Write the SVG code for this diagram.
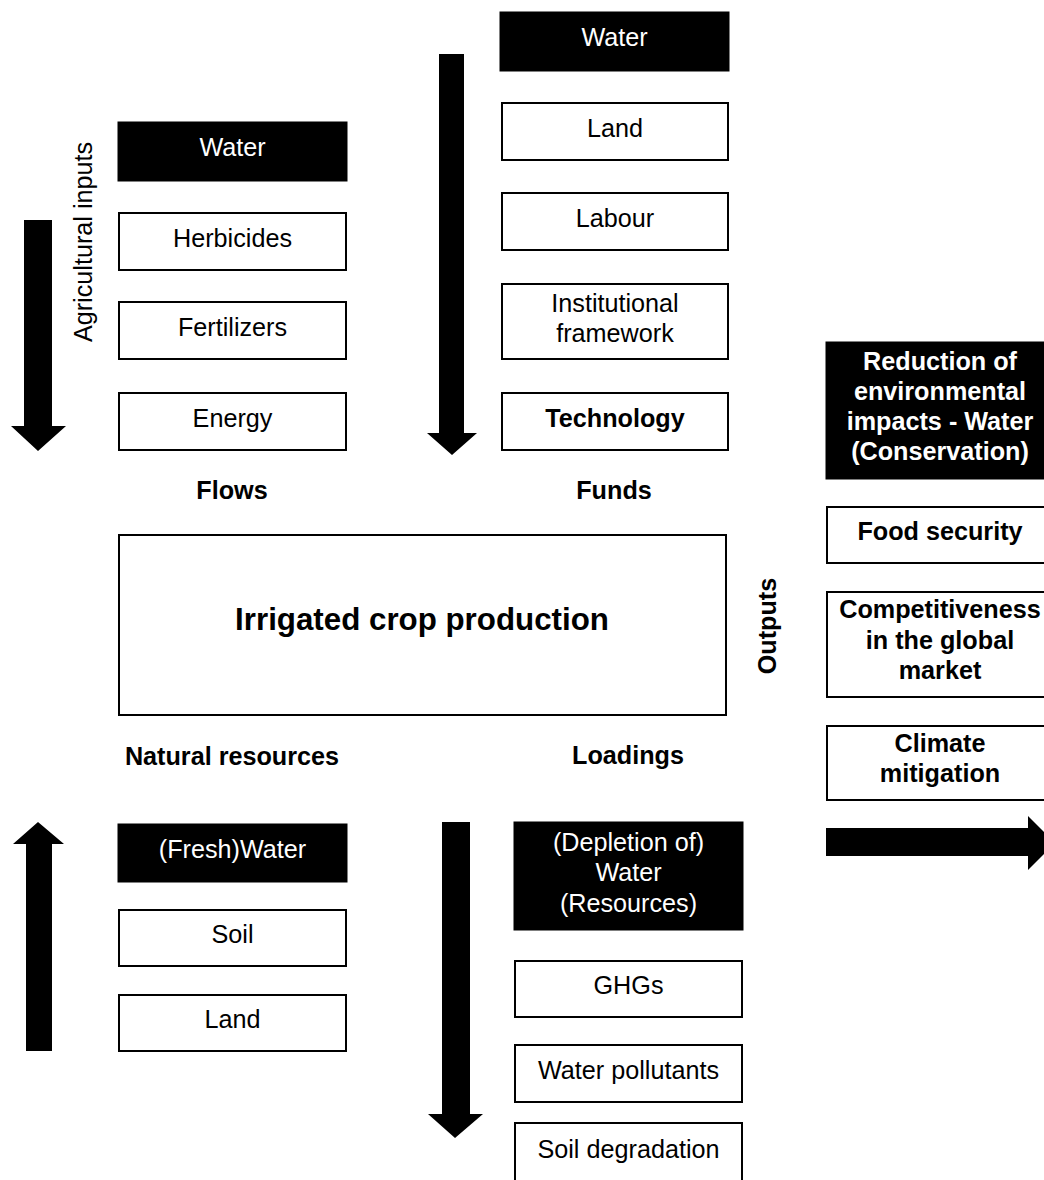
<svg xmlns="http://www.w3.org/2000/svg" width="1044" height="1180" viewBox="0 0 1044 1180">
<style>
.w{fill:#fff;stroke:#000;stroke-width:2}
.b{fill:#000;stroke:#000;stroke-width:1}
text{font-family:"Liberation Sans",Arial,sans-serif;font-size:25.2px;text-anchor:middle}
.tw{fill:#fff}
.tb{fill:#000}
.bold{font-weight:bold}
.arr{fill:#000}
</style>
<rect width="1044" height="1180" fill="#fff"/>
<g id="connectors">
<polygon class="arr" points="24,220 52,220 52,426 66,426 38,451 11,426 24,426"/>
<polygon class="arr" points="439,54 464,54 464,433 477,433 452,455 427,433 439,433"/>
<polygon class="arr" points="38,822 64,844 52,844 52,1051 26,1051 26,844 13,844"/>
<polygon class="arr" points="442,822 470,822 470,1114 483,1114 455,1138 428,1114 442,1114"/>
<polygon class="arr" points="826,828 1028,828 1028,816 1055,843 1028,870 1028,856 826,856"/>
</g>
<g id="labels">
<text class="tb" transform="translate(92,242) rotate(-90)">Agricultural inputs</text>
<text class="tb bold" x="232" y="499">Flows</text>
<text class="tb bold" x="614" y="499">Funds</text>
<text class="tb bold" x="232" y="765">Natural resources</text>
<text class="tb bold" x="628" y="764">Loadings</text>
<text class="tb bold" transform="translate(776,626) rotate(-90)">Outputs</text>
</g>
<g id="flow-water"><rect class="b" x="118" y="122" width="229" height="59"/><text class="tw" x="232.5" y="156">Water</text></g>
<g id="flow-herbicides"><rect class="w" x="119" y="213" width="227" height="57"/><text class="tb" x="232.5" y="247">Herbicides</text></g>
<g id="flow-fertilizers"><rect class="w" x="119" y="302" width="227" height="57"/><text class="tb" x="232.5" y="336">Fertilizers</text></g>
<g id="flow-energy"><rect class="w" x="119" y="393" width="227" height="57"/><text class="tb" x="232.5" y="427">Energy</text></g>
<g id="fund-water"><rect class="b" x="500" y="12" width="229" height="59"/><text class="tw" x="614.5" y="46">Water</text></g>
<g id="fund-land"><rect class="w" x="502" y="103" width="226" height="57"/><text class="tb" x="615" y="137">Land</text></g>
<g id="fund-labour"><rect class="w" x="502" y="193" width="226" height="57"/><text class="tb" x="615" y="227">Labour</text></g>
<g id="fund-institutional"><rect class="w" x="502" y="284" width="226" height="75"/><text class="tb" x="615" y="312">Institutional</text><text class="tb" x="615" y="342">framework</text></g>
<g id="fund-technology"><rect class="w" x="502" y="393" width="226" height="57"/><text class="tb bold" x="615" y="427">Technology</text></g>
<g id="main"><rect class="w" x="119" y="535" width="607" height="180"/><text class="tb bold" x="422" y="630" style="font-size:31.3px">Irrigated crop production</text></g>
<g id="out-reduction"><rect class="b" x="826" y="342" width="230" height="137"/><text class="tw bold" x="940" y="370">Reduction of</text><text class="tw bold" x="940" y="400">environmental</text><text class="tw bold" x="940" y="430">impacts - Water</text><text class="tw bold" x="940" y="460">(Conservation)</text></g>
<g id="out-food"><rect class="w" x="827" y="507" width="228" height="56"/><text class="tb bold" x="940" y="540">Food security</text></g>
<g id="out-competitiveness"><rect class="w" x="827" y="592" width="228" height="105"/><text class="tb bold" x="940" y="618">Competitiveness</text><text class="tb bold" x="940" y="649">in the global</text><text class="tb bold" x="940" y="679">market</text></g>
<g id="out-climate"><rect class="w" x="827" y="726" width="228" height="74"/><text class="tb bold" x="940" y="752">Climate</text><text class="tb bold" x="940" y="782">mitigation</text></g>
<g id="nat-water"><rect class="b" x="118" y="824" width="229" height="58"/><text class="tw" x="232.5" y="858">(Fresh)Water</text></g>
<g id="nat-soil"><rect class="w" x="119" y="910" width="227" height="56"/><text class="tb" x="232.5" y="943">Soil</text></g>
<g id="nat-land"><rect class="w" x="119" y="995" width="227" height="56"/><text class="tb" x="232.5" y="1028">Land</text></g>
<g id="load-depletion"><rect class="b" x="514" y="822" width="229" height="108"/><text class="tw" x="628.5" y="851">(Depletion of)</text><text class="tw" x="628.5" y="881">Water</text><text class="tw" x="628.5" y="912">(Resources)</text></g>
<g id="load-ghgs"><rect class="w" x="515" y="961" width="227" height="56"/><text class="tb" x="628.5" y="994">GHGs</text></g>
<g id="load-pollutants"><rect class="w" x="515" y="1045" width="227" height="57"/><text class="tb" x="628.5" y="1079">Water pollutants</text></g>
<g id="load-soil"><rect class="w" x="515" y="1123" width="227" height="70"/><text class="tb" x="628.5" y="1158">Soil degradation</text></g>
</svg>
